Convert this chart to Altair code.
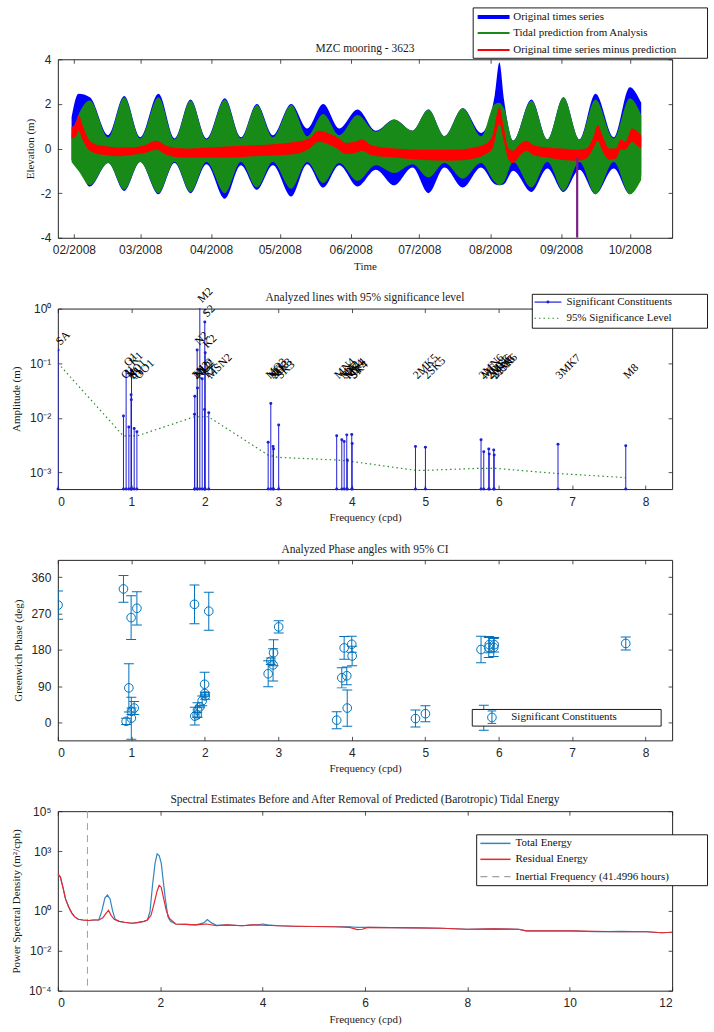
import altair as alt
import pandas as pd

SERIF = "Liberation Serif"
SANS = "Liberation Sans"
AX = "#262626"
W = 616
H1, H2, H3, H4 = 179, 181, 181, 180

# ---------------- Panel 1: time series envelopes ----------------
env_dates = ["2008-01-31", "2008-02-03", "2008-02-08", "2008-02-16", "2008-02-23", "2008-03-01",
             "2008-03-09", "2008-03-16", "2008-03-23", "2008-03-30", "2008-04-07", "2008-04-14",
             "2008-04-21", "2008-04-28", "2008-05-06", "2008-05-13", "2008-05-20", "2008-05-27",
             "2008-06-04", "2008-06-12", "2008-06-20", "2008-06-28", "2008-07-05", "2008-07-12",
             "2008-07-20", "2008-07-28", "2008-08-03", "2008-08-05", "2008-08-07", "2008-08-11",
             "2008-08-19", "2008-08-26", "2008-09-02", "2008-09-09", "2008-09-16", "2008-09-24",
             "2008-10-01", "2008-10-06"]
green_hi = [0.6, 1.5, 2.15, 0.5, 2.3, 0.45, 2.3, 0.4, 2.15, 0.4, 2.2, 0.45, 1.95, 0.5, 1.95, 0.55,
            1.55, 0.6, 1.5, 0.75, 1.3, 0.8, 1.75, 0.55, 1.8, 0.55, 2.0, 2.05, 1.8, 0.35, 2.15, 0.4,
            2.3, 0.4, 2.2, 0.45, 2.25, 1.5]
green_lo = [-0.6, -1.0, -1.65, -0.65, -1.85, -0.6, -2.0, -0.6, -1.95, -0.6, -2.0, -0.6, -1.75, -0.6,
            -1.8, -0.6, -1.55, -0.65, -1.45, -0.75, -1.1, -0.7, -1.3, -0.65, -1.35, -0.65, -1.5,
            -1.65, -1.5, -0.6, -1.75, -0.6, -1.9, -0.6, -2.05, -0.6, -2.05, -1.4]
blue_hi = [1.4, 2.45, 2.3, 0.6, 2.35, 0.5, 2.45, 0.45, 2.2, 0.45, 2.25, 0.5, 2.0, 0.6, 2.0, 0.9,
           2.0, 0.9, 1.75, 0.8, 1.3, 0.8, 1.75, 0.55, 1.8, 0.7, 2.4, 3.85, 2.2, 0.35, 2.2, 0.4,
           2.3, 0.4, 2.45, 0.5, 2.75, 2.05]
blue_lo = [-0.5, -0.8, -1.7, -0.65, -1.9, -0.6, -2.05, -0.65, -2.0, -0.7, -2.25, -0.75, -1.85,
           -0.75, -2.15, -0.7, -1.75, -0.75, -1.7, -0.95, -1.65, -0.85, -2.0, -0.85, -1.75, -0.85,
           -1.6, -1.65, -1.6, -1.0, -1.95, -0.9, -1.95, -0.95, -2.05, -0.9, -2.05, -1.2]

red_dates = ["2008-01-31", "2008-02-02", "2008-02-03", "2008-02-05", "2008-02-07", "2008-02-10",
             "2008-02-15", "2008-02-20", "2008-02-25", "2008-03-03", "2008-03-08", "2008-03-13",
             "2008-03-20", "2008-04-01", "2008-04-10", "2008-04-20", "2008-04-30", "2008-05-08",
             "2008-05-14", "2008-05-18", "2008-05-22", "2008-05-26", "2008-05-30", "2008-06-03",
             "2008-06-06", "2008-06-10", "2008-06-20", "2008-07-01", "2008-07-15", "2008-07-25",
             "2008-07-30", "2008-08-02", "2008-08-05", "2008-08-07", "2008-08-09", "2008-08-11",
             "2008-08-14", "2008-08-17", "2008-08-20", "2008-08-26", "2008-09-01", "2008-09-08",
             "2008-09-12", "2008-09-15", "2008-09-17", "2008-09-19", "2008-09-22", "2008-09-25",
             "2008-09-27", "2008-09-29", "2008-10-02", "2008-10-04", "2008-10-06"]
red_hi = [0.95, 1.2, 1.5, 1.0, 0.5, 0.2, 0.1, 0.05, 0.05, 0.15,
          0.35, 0.1, 0.0, 0.05, 0.1, 0.15, 0.2, 0.3, 0.45, 0.8,
          0.7, 0.5, 0.25, 0.3, 0.4, 0.15, 0.0, -0.05, -0.05, 0.05,
          0.2, 0.6, 1.85, 0.9, 0.0, -0.1, 0.2, 0.35, 0.15, 0.05,
          0.0, -0.05, 0.0, 0.5, 1.05, 0.6, 0.0, 0.0, 0.4, 0.3,
          0.9, 0.8, 0.6]
red_lo = [0.45, 0.55, 0.8, 0.35, 0.0, -0.2, -0.3, -0.35, -0.3, -0.2,
          -0.05, -0.3, -0.4, -0.4, -0.4, -0.35, -0.3, -0.25, 0.0, 0.3,
          0.2, 0.0, -0.25, -0.2, -0.1, -0.3, -0.4, -0.5, -0.55, -0.45,
          -0.25, 0.0, 1.1, 0.3, -0.5, -0.65, -0.3, -0.1, -0.3, -0.4,
          -0.5, -0.55, -0.45, 0.0, 0.35, -0.1, -0.5, -0.45, -0.05, -0.05,
          0.3, 0.15, 0.0]
spike_date = ["2008-09-08"]
spike_top = [-0.4]
spike_bottom = [-4.0]
month_ticks = [2, 3, 4, 5, 6, 7, 8, 9, 10]
elev_ticks = [-4, -2, 0, 2, 4]

# ---------------- Constituents ----------------
con_names = ["SA", "Q1", "O1", "NO1", "P1", "S1", "K1", "J1", "OO1",
             "2N2", "MU2", "N2", "NU2", "M2", "L2", "T2", "S2", "K2", "MSN2",
             "MO3", "M3", "SO3", "MK3", "SK3",
             "MN4", "M4", "SN4", "MS4", "MK4", "S4", "SK4",
             "2MK5", "2SK5",
             "2MN6", "M6", "2MS6", "2MK6", "2SM6", "MSK6",
             "3MK7", "M8"]
con_freq = [0.0027, 0.8932, 0.9295, 0.9664, 0.9973, 1.0000, 1.0027, 1.0390, 1.0759,
            1.8597, 1.8640, 1.8960, 1.9006, 1.9323, 1.9645, 1.9973, 2.0000, 2.0055, 2.0542,
            2.8625, 2.8984, 2.9295, 2.9355, 3.0055,
            3.7951, 3.8645, 3.8967, 3.9322, 3.9387, 4.0000, 4.0055,
            4.8673, 5.0027,
            5.7595, 5.7966, 5.8645, 5.8710, 5.9322, 5.9387,
            6.8070, 7.7290]
con_amp = [0.175, 0.0108, 0.072, 0.0068, 0.0265, 0.0215, 0.0745, 0.0064, 0.0056,
           0.0117, 0.025, 0.175, 0.0353, 1.05, 0.052, 0.0143, 0.57, 0.155, 0.0125,
           0.0036, 0.0184, 0.0030, 0.0027, 0.0074,
           0.0047, 0.0040, 0.0037, 0.0049, 0.0017, 0.0050, 0.0034,
           0.0030, 0.0029,
           0.0040, 0.0024, 0.0027, 0.0022, 0.0026, 0.0021,
           0.0033, 0.0031]
con_phase = [291, 331, 3, 86, 260, 11, 28, 36, 283,
             293, 16, 19, 31, 39, 54, 95, 72, 66, 276,
             121, 152, 143, 173, 237,
             6, 111, 185, 116, 36, 194, 165,
             10, 22,
             181, 12, 186, 193, 186, 193,
             10, 196]
con_phase_err = [35, 33, 8, 60, 54, 52, 8, 16, 41,
                 48, 22, 6, 18, 2, 12, 30, 3, 8, 47,
                 32, 8, 40, 32, 15,
                 21, 25, 28, 22, 45, 20, 24,
                 21, 20,
                 33, 31, 25, 20, 22, 18,
                 15, 16]

sig_freq = [0.0027, 0.89, 1.08, 1.86, 2.05, 2.86, 3.0, 3.8, 4.0, 4.87, 5.0, 5.76, 5.94, 6.81, 7.73]
sig_amp = [0.1, 0.0047, 0.0047, 0.0105, 0.0105, 0.0021, 0.0019, 0.0017, 0.0016, 0.0011, 0.0011,
           0.0012, 0.0012, 0.00096, 0.00081]

freq_ticks8 = [0, 1, 2, 3, 4, 5, 6, 7, 8]
amp_ticks = [0.001, 0.01, 0.1, 1]
phase_ticks = [0, 90, 180, 270, 360]

# ---------------- Spectra ----------------
tot_freq = [0.0, 0.05, 0.1, 0.15, 0.21, 0.27, 0.33, 0.4, 0.49, 0.6, 0.7, 0.8, 0.86, 0.92, 0.97,
            1.02, 1.07, 1.12, 1.2, 1.3, 1.44, 1.55, 1.68, 1.75, 1.8, 1.85, 1.9, 1.94, 1.98, 2.02,
            2.06, 2.1, 2.15, 2.2, 2.3, 2.5, 2.7, 2.85, 2.92, 3.0, 3.1, 3.3, 3.6, 3.8, 3.9, 4.0,
            4.1, 4.3, 4.6, 5.0, 5.4, 5.7, 5.85, 6.0, 6.5, 7.0, 7.5, 8.0, 8.5, 9.0, 9.15, 9.5,
            10.0, 10.5, 11.0, 11.5, 11.8, 12.0]
tot_psd = [72, 50, 15, 4, 1.6, 0.8, 0.5, 0.38, 0.35, 0.33, 0.35, 0.35, 1.0, 4.5, 6.2,
           4.0, 1.0, 0.38, 0.3, 0.27, 0.24, 0.26, 0.3, 0.35, 0.9, 20, 250, 720, 600, 250,
           30, 4, 0.5, 0.3, 0.22, 0.21, 0.2, 0.25, 0.37, 0.25, 0.19, 0.2, 0.18, 0.2, 0.2, 0.22,
           0.2, 0.18, 0.17, 0.165, 0.16, 0.16, 0.15, 0.15, 0.145, 0.14, 0.135, 0.12, 0.125, 0.12,
           0.1, 0.1, 0.1, 0.09, 0.095, 0.09, 0.08, 0.085]
res_freq = [0.0, 0.05, 0.1, 0.15, 0.21, 0.27, 0.33, 0.4, 0.49, 0.6, 0.7, 0.8, 0.88, 0.94, 0.99,
            1.04, 1.1, 1.2, 1.3, 1.44, 1.55, 1.68, 1.75, 1.82, 1.88, 1.94, 1.98, 2.02, 2.06, 2.12,
            2.18, 2.3, 2.5, 2.7, 2.9, 3.1, 3.3, 3.6, 3.8, 4.0, 4.3, 4.6, 5.0, 5.4, 5.7, 5.85,
            5.95, 6.05, 6.5, 7.0, 7.5, 8.0, 8.5, 9.0, 9.15, 9.5, 10.0, 10.5, 11.0, 11.5, 11.8, 12.0]
res_psd = [72, 50, 15, 4, 1.6, 0.8, 0.5, 0.38, 0.35, 0.33, 0.35, 0.35, 0.45, 0.75, 1.07,
           0.6, 0.38, 0.3, 0.27, 0.24, 0.26, 0.3, 0.35, 0.6, 2.3, 10, 19, 15, 5, 1.0,
           0.42, 0.22, 0.21, 0.2, 0.22, 0.18, 0.2, 0.18, 0.2, 0.19, 0.18, 0.17, 0.165, 0.16, 0.15,
           0.115, 0.12, 0.15, 0.145, 0.14, 0.135, 0.12, 0.125, 0.12, 0.1, 0.1, 0.1, 0.095, 0.09,
           0.09, 0.08, 0.085]
inertial_hours = 41.4996
freq_ticks12 = [0, 2, 4, 6, 8, 10, 12]
psd_ticks = [1e-4, 1e-2, 1, 1e3, 1e5]

# ---------------- helpers ----------------
ONE = alt.Data(values=[{"k": 0}])


def panel_title(txt, y):
    return alt.Chart(ONE).mark_text(align="center", baseline="middle", font=SERIF, fontSize=11.5,
                                    color="#1a1a1a").encode(x=alt.value(W / 2), y=alt.value(y),
                                                            text=alt.value(txt))


def xaxis(ttl, values, label_expr=None, ty=29):
    kw = dict(orient="bottom", values=values, ticks=False, tickSize=0, domain=False, grid=False,
              labelPadding=7, title=ttl, titleX=W / 2, titleY=ty, titleAlign="center",
              titleBaseline="middle")
    if label_expr:
        kw["labelExpr"] = label_expr
    return alt.Axis(**kw)


def yaxis(ttl, values, h, tx, label_expr=None):
    kw = dict(orient="left", values=values, ticks=False, tickSize=0, domain=False, grid=False,
              labelPadding=7, title=ttl, titleAngle=270, titleX=tx, titleY=h / 2,
              titleAlign="center", titleBaseline="middle")
    if label_expr:
        kw["labelExpr"] = label_expr
    return alt.Axis(**kw)


def tick_layers(data, xf, yf, h, xvals, yvals):
    ax = dict(labels=False, domain=False, grid=False, ticks=True, tickSize=4, tickColor=AX,
              tickWidth=0.8, title=None)
    b = alt.Chart(data).mark_point(opacity=0, size=1).encode(
        x=alt.X(xf, axis=alt.Axis(orient="top", offset=-h, values=xvals, **ax)),
        y=alt.Y(yf, axis=alt.Axis(orient="right", offset=-W, values=yvals, **ax)))
    c = alt.Chart(data).mark_point(opacity=0, size=1).encode(
        x=alt.X(xf, axis=alt.Axis(orient="bottom", offset=-h, values=xvals, **ax)),
        y=alt.Y(yf, axis=alt.Axis(orient="left", offset=-W, values=yvals, **ax)))
    return [b, c]


def lg_box(x0, x1, y0, y1):
    return alt.Chart(ONE).mark_rect(fill="white", stroke="black", strokeWidth=0.9).encode(
        x=alt.value(x0), x2=alt.value(x1), y=alt.value(y0), y2=alt.value(y1))


def lg_line(x0, x1, y, color, width, dash=None):
    kw = dict(color=color, strokeWidth=width)
    if dash:
        kw["strokeDash"] = dash
    return alt.Chart(ONE).mark_rule(**kw).encode(x=alt.value(x0), x2=alt.value(x1), y=alt.value(y))


def lg_text(x, y, s):
    return alt.Chart(ONE).mark_text(align="left", baseline="middle", font=SERIF, fontSize=11,
                                    color="#111").encode(x=alt.value(x), y=alt.value(y),
                                                         text=alt.value(s))


# ---------------- Panel 1 ----------------
env_df = pd.DataFrame({"date": env_dates, "green_hi": green_hi, "green_lo": green_lo,
                       "blue_hi": blue_hi, "blue_lo": blue_lo})
red_df = pd.DataFrame({"date": red_dates, "red_hi": red_hi, "red_lo": red_lo})
spike_df = pd.DataFrame({"date": spike_date, "top": spike_top, "bottom": spike_bottom})

month_vals = [alt.DateTime(year=2008, month=m, date=1, utc=True) for m in month_ticks]
xs1 = alt.Scale(type="utc", domain=[alt.DateTime(year=2008, month=1, date=25, utc=True),
                                    alt.DateTime(year=2008, month=10, date=19, hours=12, utc=True)])
ys1 = alt.Scale(domain=[-4, 4], nice=False)
minus_expr = "datum.value < 0 ? '-' + abs(datum.value) : '' + datum.value"

blue = alt.Chart(env_df).mark_area(color="#0000ff", interpolate="monotone").encode(
    x=alt.X("date:T", scale=xs1, axis=xaxis("Time", month_vals, "utcFormat(datum.value, '%m/%Y')")),
    y=alt.Y("blue_lo:Q", scale=ys1, axis=yaxis("Elevation (m)", elev_ticks, H1, -27.5, minus_expr)),
    y2="blue_hi:Q")
green = alt.Chart(env_df).mark_area(color="#178a17", interpolate="monotone").encode(
    x=alt.X("date:T", axis=None), y=alt.Y("green_lo:Q", axis=None), y2="green_hi:Q")
red = alt.Chart(red_df).mark_area(color="#ff0000", interpolate="monotone").encode(
    x=alt.X("date:T", axis=None), y=alt.Y("red_lo:Q", axis=None), y2="red_hi:Q")
spike = alt.Chart(spike_df).mark_rule(color="#7b1f87", strokeWidth=2.2, clip=True).encode(
    x=alt.X("date:T", axis=None), y=alt.Y("top:Q", axis=None), y2="bottom:Q")
anchor = alt.Chart(ONE).mark_point(opacity=0, size=1).encode(x=alt.value(-51.5), y=alt.value(0))

p1 = alt.layer(
    blue, green, red, spike,
    *tick_layers(red_df, "date:T", "red_hi:Q", H1, month_vals, elev_ticks),
    panel_title("MZC mooring - 3623", -10.3),
    lg_box(416.5, 651.5, -51.5, -1),
    lg_line(421, 453, -42.3, "#0000ff", 4),
    lg_line(421, 453, -26.3, "#178a17", 2),
    lg_line(421, 453, -9.3, "#ff0000", 2),
    lg_text(456.7, -42.3, "Original times series"),
    lg_text(456.7, -26.3, "Tidal prediction from Analysis"),
    lg_text(456.7, -9.3, "Original time series minus prediction"),
    anchor,
).properties(width=W, height=H1).resolve_axis(x="independent", y="independent")

# ---------------- Panel 2 ----------------
STEM = "#1f1fd6"
cons_df = pd.DataFrame({"name": con_names, "freq": con_freq, "amp": con_amp,
                        "phase": con_phase, "err": con_phase_err})
sig_df = pd.DataFrame({"freq": sig_freq, "amp": sig_amp})
xs2 = alt.Scale(domain=[0, 8.36], nice=False, zero=False)
ys2 = alt.Scale(type="log", domain=[0.0005, 1], nice=False)
log_expr2 = ("datum.value < 0.005 ? '10\u207b\u00b3' : datum.value < 0.05 ? '10\u207b\u00b2' : "
             "datum.value < 0.5 ? '10\u207b\u00b9' : '10\u2070'")

stems = alt.Chart(cons_df).mark_rule(color=STEM, strokeWidth=1, clip=True).encode(
    x=alt.X("freq:Q", scale=xs2, axis=xaxis("Frequency (cpd)", freq_ticks8)),
    y=alt.Y("amp:Q", scale=ys2, axis=yaxis("Amplitude (m)", amp_ticks, H2, -41, log_expr2)),
    y2=alt.Y2(datum=0.0005))
stem_tops = alt.Chart(cons_df).mark_point(filled=True, size=9, color=STEM, opacity=1, clip=True).encode(
    x=alt.X("freq:Q", axis=None), y=alt.Y("amp:Q", axis=None))
stem_base = alt.Chart(cons_df).mark_point(filled=True, size=9, color=STEM, opacity=1).encode(
    x=alt.X("freq:Q", axis=None), y=alt.Y(datum=0.0005, axis=None))
sig_line = alt.Chart(sig_df).mark_line(color="#2e8b2e", strokeDash=[1.5, 3], strokeWidth=1.2).encode(
    x=alt.X("freq:Q", axis=None), y=alt.Y("amp:Q", axis=None))
stem_labels = alt.Chart(cons_df).transform_calculate(
    label_y="max(datum.amp * 1.3, 0.055)").mark_text(
    angle=315, align="left", baseline="middle", font=SERIF, fontSize=11.5, color="#000").encode(
    x=alt.X("freq:Q", axis=None), y=alt.Y("label_y:Q", axis=None), text="name:N")

p2 = alt.layer(
    sig_line, stems, stem_tops, stem_base, stem_labels,
    *tick_layers(cons_df, "freq:Q", "amp:Q", H2, freq_ticks8, amp_ticks),
    panel_title("Analyzed lines with 95% significance level", -10.3),
    lg_box(475.8, 651.5, -14.3, 19.7),
    lg_line(478, 505, -6.5, STEM, 1.2),
    alt.Chart(ONE).mark_point(filled=True, size=9, color=STEM, opacity=1).encode(
        x=alt.value(491.5), y=alt.value(-6.5)),
    lg_line(478, 505, 9.7, "#2e8b2e", 1.2, [1.5, 3]),
    lg_text(510, -6.5, "Significant Constituents"),
    lg_text(510, 9.7, "95% Significance Level"),
).properties(width=W, height=H2).resolve_axis(x="independent", y="independent")

# ---------------- Panel 3 ----------------
PH = "#0072BD"
xs3 = alt.Scale(domain=[0, 8.36], nice=False, zero=False)
ys3 = alt.Scale(domain=[-44, 403], nice=False, zero=False)
err_base = alt.Chart(cons_df).transform_calculate(lo="datum.phase - datum.err",
                                                 hi="datum.phase + datum.err")
bars = err_base.mark_rule(color=PH, strokeWidth=1, clip=True).encode(
    x=alt.X("freq:Q", scale=xs3, axis=xaxis("Frequency (cpd)", freq_ticks8, ty=28)),
    y=alt.Y("lo:Q", scale=ys3, axis=yaxis("Greenwich Phase (deg)", phase_ticks, H3, -39)),
    y2="hi:Q")
cap_lo = err_base.mark_tick(orient="horizontal", size=10, thickness=1, color=PH, opacity=1, clip=True).encode(
    x=alt.X("freq:Q", axis=None), y=alt.Y("lo:Q", axis=None))
cap_hi = err_base.mark_tick(orient="horizontal", size=10, thickness=1, color=PH, opacity=1, clip=True).encode(
    x=alt.X("freq:Q", axis=None), y=alt.Y("hi:Q", axis=None))
circles = alt.Chart(cons_df).mark_point(shape="circle", filled=False, size=75, strokeWidth=1,
                                        color=PH, opacity=1, clip=True).encode(
    x=alt.X("freq:Q", axis=None), y=alt.Y("phase:Q", axis=None))

p3 = alt.layer(
    bars, cap_lo, cap_hi, circles,
    *tick_layers(cons_df, "freq:Q", "phase:Q", H3, freq_ticks8, phase_ticks),
    panel_title("Analyzed Phase angles with 95% CI", -9.7),
    lg_box(415.6, 605, 150, 166.7),
    alt.Chart(ONE).mark_rule(color=PH, strokeWidth=1).encode(
        x=alt.value(435.3), y=alt.value(151.5), y2=alt.value(164)),
    lg_line(431, 439.6, 151.5, PH, 1),
    lg_line(431, 439.6, 164, PH, 1),
    alt.Chart(ONE).mark_point(shape="circle", filled=False, size=75, strokeWidth=1, color=PH,
                              opacity=1).encode(x=alt.value(435.3), y=alt.value(158)),
    lg_text(454.7, 158, "Significant Constituents"),
).properties(width=W, height=H3).resolve_axis(x="independent", y="independent")

# ---------------- Panel 4 ----------------
TOT = "#2f86c0"
RES = "#e8262b"
tot_df = pd.DataFrame({"freq": tot_freq, "psd": tot_psd})
res_df = pd.DataFrame({"freq": res_freq, "psd": res_psd})
inertial_cpd = 24.0 / inertial_hours
xs4 = alt.Scale(domain=[0, 12], nice=False)
ys4 = alt.Scale(type="log", domain=[1e-4, 1e5], nice=False)
log_expr4 = ("datum.value < 0.001 ? '10\u207b\u2074' : datum.value < 0.1 ? '10\u207b\u00b2' : "
             "datum.value < 10 ? '10\u2070' : datum.value < 10000 ? '10\u00b3' : '10\u2075'")

tot_line = alt.Chart(tot_df).mark_line(color=TOT, strokeWidth=1.2, clip=True).encode(
    x=alt.X("freq:Q", scale=xs4, axis=xaxis("Frequency (cpd)", freq_ticks12)),
    y=alt.Y("psd:Q", scale=ys4,
            axis=yaxis("Power Spectral Density (m\u00b2/cph)", psd_ticks, H4, -41, log_expr4)))
res_line = alt.Chart(res_df).mark_line(color=RES, strokeWidth=1.2, clip=True).encode(
    x=alt.X("freq:Q", axis=None), y=alt.Y("psd:Q", axis=None))
inertial = alt.Chart(ONE).mark_rule(color="#a0a0a0", strokeDash=[7, 5], strokeWidth=1).encode(
    x=alt.X(datum=inertial_cpd, axis=None))

p4 = alt.layer(
    inertial, tot_line, res_line,
    *tick_layers(res_df, "freq:Q", "psd:Q", H4, freq_ticks12, psd_ticks),
    panel_title("Spectral Estimates Before and After Removal of Predicted (Barotropic) Tidal Energy", -11),
    lg_box(420, 651.5, 23.7, 74.7),
    lg_line(423.7, 454, 32.3, TOT, 1.5),
    lg_line(423.7, 454, 48.3, RES, 1.5),
    lg_line(423.7, 454, 65.7, "#a0a0a0", 1.2, [7, 5]),
    lg_text(459, 32.3, "Total Energy"),
    lg_text(459, 48.3, "Residual Energy"),
    lg_text(459, 65.7, "Inertial Frequency (41.4996 hours)"),
).properties(width=W, height=H4).resolve_axis(x="independent", y="independent")

chart = alt.vconcat(p1, p2, p3, p4, spacing=71, bounds="flush").properties(
    padding={"left": 5, "top": 5, "right": 5, "bottom": 2}
).configure_view(stroke=AX, strokeWidth=1).configure_axis(
    labelFont=SANS, labelFontSize=12, labelColor=AX, titleFont=SERIF, titleFontSize=11,
    titleFontWeight="normal", titleColor="#1a1a1a", grid=False)

chart.save("out.html", embed_options={"renderer": "svg", "actions": False})
